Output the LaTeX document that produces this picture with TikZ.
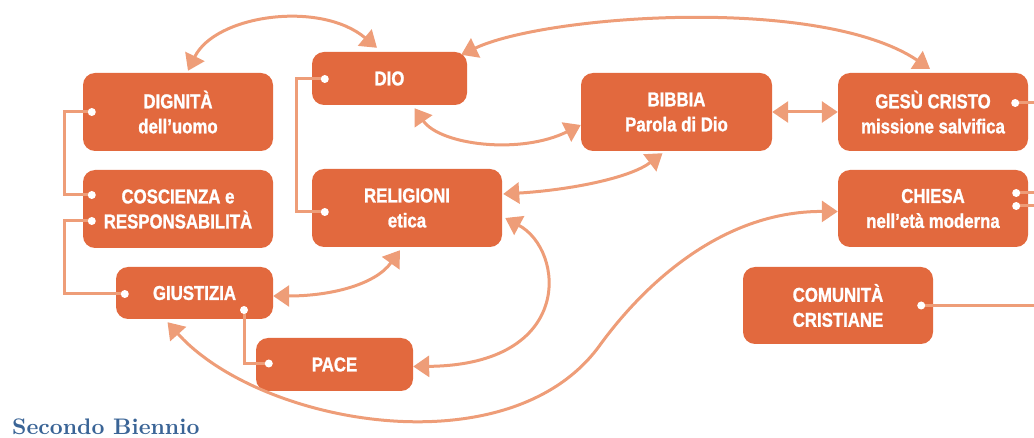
\documentclass[tikz,border=0pt]{standalone}
\usepackage{fontspec}
\newfontfamily\labelfont[FakeStretch=0.84,FakeBold=1.2]{Liberation Sans Bold}
\newfontfamily\titlefont{lmroman10-bold.otf}
\usetikzlibrary{arrows.meta,calc}
\definecolor{boxc}{HTML}{E2693E}
\definecolor{linkc}{HTML}{EE9D78}
\definecolor{titlec}{HTML}{3A6496}
\begin{document}
\begin{tikzpicture}[x=1pt,y=-1pt,
  box/.style={rectangle, rounded corners=12pt, fill=boxc, text=white,
    font=\labelfont\fontsize{20}{25}\selectfont, align=center, inner sep=0pt},
  link/.style={draw=linkc, line width=3pt,
    {Triangle[length=16pt,width=21pt]}-{Triangle[length=16pt,width=21pt]}},
  bracket/.style={draw=linkc, line width=3pt},
  dot/.style={circle, fill=white, inner sep=0pt, minimum size=8pt}]
\useasboundingbox (0,0) rectangle (1034,438);

% boxes
\node[box, minimum width=190pt, minimum height=78pt] (dign) at (178,112) {DIGNITÀ\\dell’uomo};
\node[box, minimum width=190pt, minimum height=78pt] (cos) at (178,209) {COSCIENZA e\\RESPONSABILITÀ};
\node[box, minimum width=155pt, minimum height=53pt] (dio) at (389.5,78.5) {DIO};
\node[box, minimum width=190pt, minimum height=78pt] (rel) at (407,208) {RELIGIONI\\etica};
\node[box, minimum width=157pt, minimum height=52pt] (giu) at (194.5,293) {GIUSTIZIA};
\node[box, minimum width=157pt, minimum height=53pt] (pace) at (334.5,364.5) {PACE};
\node[box, minimum width=191pt, minimum height=78pt] (bib) at (676.5,112) {BIBBIA\\Parola di Dio};
\node[box, minimum width=190pt, minimum height=78pt] (gesu) at (933,112) {GESÙ CRISTO\\missione salvifica};
\node[box, minimum width=190pt, minimum height=77pt] (chiesa) at (933,208.5) {CHIESA\\nell’età moderna};
\node[box, minimum width=190pt, minimum height=77pt] (com) at (838,305.5) {COMUNITÀ\\CRISTIANE};

% dot positions
\coordinate (dgd) at ($(dign.west)+(9,0)$);
\coordinate (cd1) at ($(cos.west)+(9,-14)$);
\coordinate (cd2) at ($(cos.west)+(9,12)$);
\coordinate (dd) at ($(dio.west)+(13,0.5)$);
\coordinate (rd) at ($(rel.west)+(13,4)$);
\coordinate (gd1) at ($(giu.west)+(9,1)$);
\coordinate (gd2) at ($(giu.center)+(49.5,17)$);
\coordinate (pd) at ($(pace.west)+(13,-1)$);
\coordinate (jd) at ($(gesu.east)+(-13,-9)$);
\coordinate (hd1) at ($(chiesa.east)+(-12,-15.5)$);
\coordinate (hd2) at ($(chiesa.east)+(-12,-2.5)$);
\coordinate (md) at ($(com.east)+(-12,0)$);
\coordinate (edge) at (1040,0);

% bracket lines
\draw[bracket] (dgd) -- ++(-27,0) |- (cd1);
\draw[bracket] (cd2) -- ++(-27,0) |- (gd1);
\draw[bracket] (dd) -- ++(-28,0) |- (rd);
\draw[bracket] (gd2) |- (pd);
\draw[bracket] (jd) -- (jd -| edge);
\draw[bracket] (hd1) -- (hd1 -| edge);
\draw[bracket] (hd2) -- (hd2 -| edge);
\draw[bracket] (md) -- (md -| edge);

% dots
\foreach \p in {dgd,cd1,cd2,dd,rd,gd1,gd2,pd,jd,hd1,hd2,md}
  \node[dot] at (\p) {};

% arrows
\draw[link] ($(dign.north)+(10,-2)$) .. controls (215,15) and (320,0) .. ($(dio.north)+(-12.5,-4)$);
\draw[link] ($(dio.north east)+(-6,3)$) .. controls (545,15) and (820,-5) .. ($(gesu.north)+(-3,-4)$);
\draw[link] ($(dio.south)+(25,3)$) .. controls (440,145) and (520,155) .. ($(bib.west)+(0,13)$);
\draw[link] (bib.east) -- (gesu.west);
\draw[link] ($(rel.east)+(1,-14)$) .. controls (570,190) and (630,178) .. ($(bib.south)+(-14,2)$);
\draw[link] ($(giu.east)+(0,3)$) .. controls (330,296) and (375,285) .. ($(rel.south)+(-7,3)$);
\draw[link] ($(rel.east)+(3,10)$) .. controls (565,250) and (575,365) .. ($(pace.east)+(0,2)$);
\coordinate (bend) at (600,345);
\draw[link] ($(giu.south)+(-27,3)$) .. controls (260,425) and (510,470) .. (bend)
  .. controls (640,290) and (718,211) .. ($(chiesa.west)+(0,3)$);

% title
\node[anchor=base west, inner sep=0pt, text=titlec,
  font=\titlefont\fontsize{22.5}{27}\selectfont] (title) at (12,434) {Secondo Biennio};
\end{tikzpicture}
\end{document}
